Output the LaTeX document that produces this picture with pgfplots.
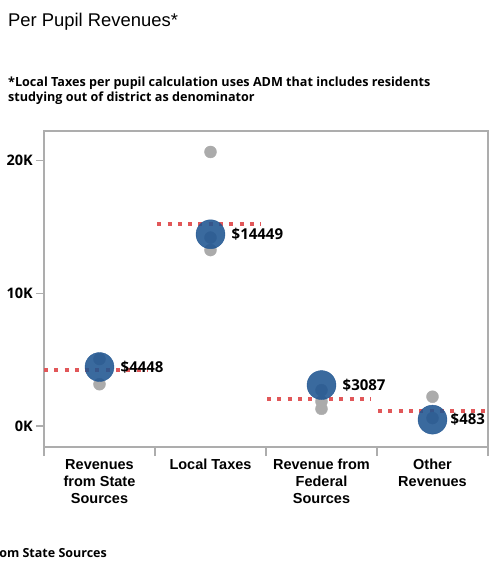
\documentclass[border=0pt]{standalone}
\usepackage{pgfplots}
\pgfplotsset{compat=1.18}
\usepackage{fontspec}
\setmainfont{Open Sans}
\newfontfamily\arialf{Liberation Sans}
\newfontfamily\osans{Open Sans}

\definecolor{tblue}{HTML}{1F5591}
\definecolor{dotgray}{HTML}{ABABAB}
\definecolor{tred}{HTML}{E15759}
\definecolor{framegray}{HTML}{ADADAD}

\begin{document}
\begin{tikzpicture}
\path[use as bounding box] (0,0) rectangle (495pt,-565pt);

\node[anchor=base west, inner sep=0, font=\arialf\fontsize{18.4}{22}\selectfont] at (8pt,-26pt) {Per Pupil Revenues*};
\node[anchor=base west, inner sep=0, font=\osans\bfseries\fontsize{12.6}{14}\selectfont] at (8pt,-86pt) {*Local Taxes per pupil calculation uses ADM that includes residents};
\node[anchor=base west, inner sep=0, font=\osans\bfseries\fontsize{12.6}{14}\selectfont] at (8pt,-101pt) {studying out of district as denominator};
\node[anchor=base east, inner sep=0, font=\osans\bfseries\fontsize{12.5}{14}\selectfont] at (107pt,-557pt) {Revenues from State Sources};

\begin{axis}[
    at={(44pt,-447pt)}, anchor=south west,
    scale only axis,
    width=444pt, height=316pt,
    xmin=-0.5, xmax=3.5,
    ymin=-1580, ymax=22230,
    clip=false,
    axis line style={framegray, line width=1.3pt},
    tick align=outside,
    xtick={0,1,2,3},
    xticklabels={{Revenues\\from State\\Sources}, {Local Taxes}, {Revenue from\\Federal\\Sources}, {Other\\Revenues}},
    minor xtick={-0.5,0.5,1.5,2.5,3.5},
    minor tick length=9pt,
    major tick length=8pt,
    major x tick style={draw=none},
    minor x tick style={framegray, line width=1.3pt},
    major y tick style={framegray, line width=1.3pt},
    xtick pos=bottom, ytick pos=left,
    ytick={0,10000,20000},
    yticklabels={0K,10K,20K},
    scaled y ticks=false,
    /pgf/number format/assume math mode=true,
    xticklabel style={font=\arialf\bfseries\fontsize{14.5}{17}\selectfont, align=center, anchor=north, inner sep=0pt, yshift=-4pt},
    yticklabel style={font=\osans\bfseries\fontsize{14.5}{15}\selectfont, inner sep=0pt, xshift=-3pt},
]
% other districts
\addplot[only marks, mark=*, mark size=6pt, color=dotgray] coordinates {
    (0,5050) (0,3150)
    (1,20650) (1,13260) (1,14200)
    (2,2700) (2,1850) (2,1300)
    (3,2210) (3,600)
};
% this district
\addplot[only marks, mark=*, mark size=14.5pt, color=tblue, fill opacity=0.88, draw opacity=0.88] coordinates {
    (0,4448) (1,14449) (2,3087) (3,483)
};
% state averages
\addplot[tred, line width=3.5pt, dash pattern=on 4pt off 6.3pt] coordinates {(-0.5,4220) (0.44,4220)};
\addplot[tred, line width=3.5pt, dash pattern=on 4pt off 6.3pt] coordinates {(0.52,15220) (1.45,15220)};
\addplot[tred, line width=3.5pt, dash pattern=on 4pt off 6.3pt] coordinates {(1.51,2035) (2.44,2035)};
\addplot[tred, line width=3.5pt, dash pattern=on 4pt off 6.3pt] coordinates {(2.51,1130) (3.5,1130)};
% value labels
\addplot[only marks, mark=none, point meta=explicit symbolic,
    nodes near coords={\$\pgfplotspointmeta},
    nodes near coords style={anchor=west, inner sep=0pt, xshift=21pt, font=\osans\bfseries\fontsize{15}{16}\selectfont, text=black}]
    coordinates {(0,4448) [4448] (1,14449) [14449] (2,3087) [3087]};
\addplot[only marks, mark=none, point meta=explicit symbolic,
    nodes near coords={\$\pgfplotspointmeta},
    nodes near coords style={anchor=west, inner sep=0pt, xshift=18pt, font=\osans\bfseries\fontsize{15}{16}\selectfont, text=black}]
    coordinates {(3,483) [483]};
\end{axis}
\end{tikzpicture}
\end{document}
